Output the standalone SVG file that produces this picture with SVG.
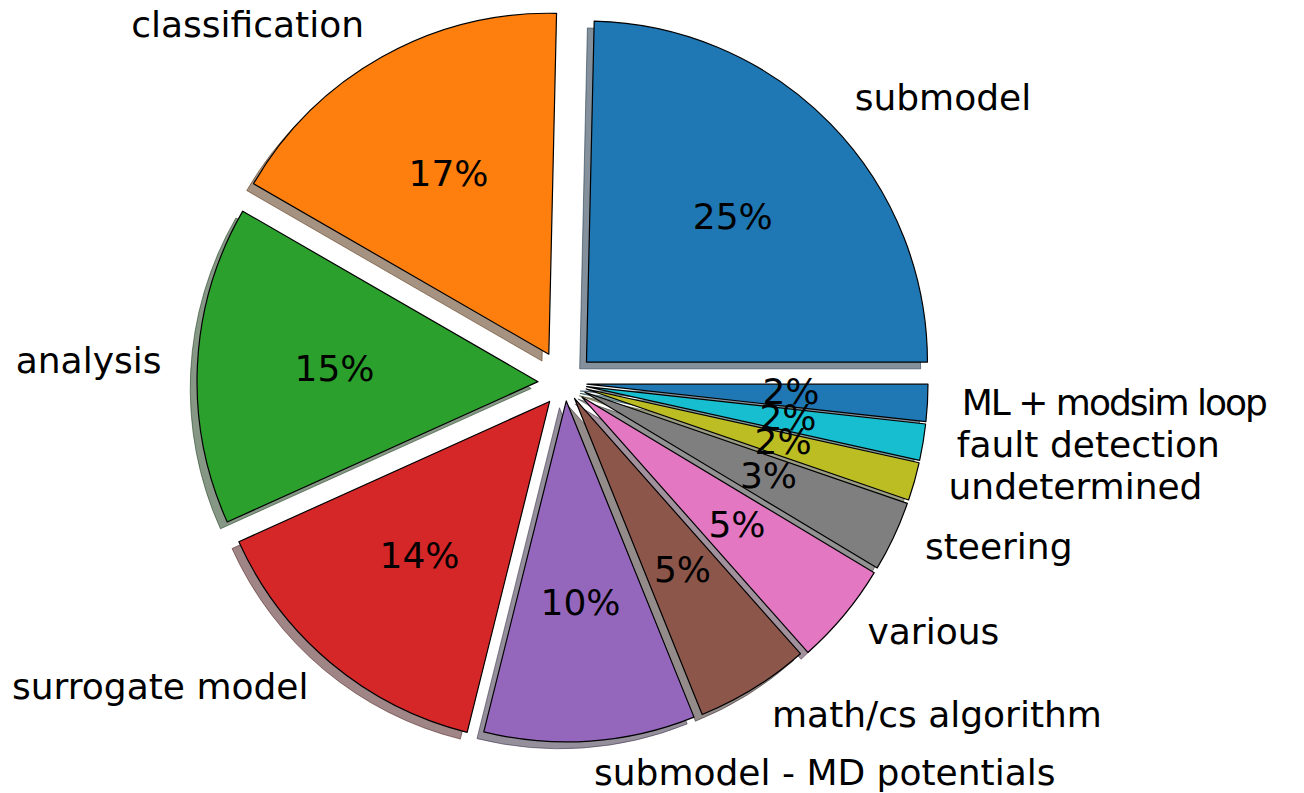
<svg xmlns="http://www.w3.org/2000/svg" width="1304" height="793" viewBox="0 0 1304 793">
<style>
.w{stroke:#000;stroke-width:1.2;stroke-linejoin:round}
.s{fill-opacity:0.5;stroke-width:1;stroke-opacity:0.5}
.t{font-family:"DejaVu Sans","Liberation Sans",sans-serif;font-size:36px;fill:#000}
.m{text-anchor:middle}
.e{text-anchor:end}
</style>
<rect width="1304" height="793" fill="#fff"/>
<g id="shadows" transform="translate(-6.8,6.8)">
<path class="s" fill="#09243a" stroke="#09243a" d="M586.46,362.03 L927.46,362.03 A341,341 0 0,0 594.20,21.12 Z"/>
<path class="s" fill="#4d2604" stroke="#4d2604" d="M548.82,354.24 L556.56,13.33 A341,341 0 0,0 253.51,183.74 Z"/>
<path class="s" fill="#0d300d" stroke="#0d300d" d="M538.03,381.66 L242.72,211.16 A341,341 0 0,0 227.24,521.99 Z"/>
<path class="s" fill="#400c0c" stroke="#400c0c" d="M549.63,401.43 L238.84,541.76 A341,341 0 0,0 467.14,732.30 Z"/>
<path class="s" fill="#2c1f39" stroke="#2c1f39" d="M566.26,400.96 L483.77,731.83 A341,341 0 0,0 694.00,717.13 Z"/>
<path class="s" fill="#2a1a17" stroke="#2a1a17" d="M574.47,398.31 L702.21,714.48 A341,341 0 0,0 800.42,653.71 Z"/>
<path class="s" fill="#44243a" stroke="#44243a" d="M581.93,397.05 L807.88,652.45 A341,341 0 0,0 874.23,572.68 Z"/>
<path class="s" fill="#262626" stroke="#262626" d="M584.94,392.30 L877.24,567.93 A341,341 0 0,0 907.36,503.32 Z"/>
<path class="s" fill="#38390a" stroke="#38390a" d="M586.17,388.97 L908.59,499.99 A341,341 0 0,0 919.09,462.78 Z"/>
<path class="s" fill="#07393e" stroke="#07393e" d="M586.70,386.59 L919.62,460.40 A341,341 0 0,0 925.64,424.01 Z"/>
<path class="s" fill="#09243a" stroke="#09243a" d="M586.97,384.21 L925.91,421.63 A341,341 0 0,0 927.97,384.21 Z"/>
</g>
<g id="submodel"><path class="w" fill="#1f77b4" d="M586.46,362.03 L927.46,362.03 A341,341 0 0,0 594.20,21.12 Z"/></g>
<g id="classification"><path class="w" fill="#ff7f0e" d="M548.82,354.24 L556.56,13.33 A341,341 0 0,0 253.51,183.74 Z"/></g>
<g id="analysis"><path class="w" fill="#2ca02c" d="M538.03,381.66 L242.72,211.16 A341,341 0 0,0 227.24,521.99 Z"/></g>
<g id="surrogate-model"><path class="w" fill="#d62728" d="M549.63,401.43 L238.84,541.76 A341,341 0 0,0 467.14,732.30 Z"/></g>
<g id="submodel-md-potentials"><path class="w" fill="#9467bd" d="M566.26,400.96 L483.77,731.83 A341,341 0 0,0 694.00,717.13 Z"/></g>
<g id="math-cs-algorithm"><path class="w" fill="#8c564b" d="M574.47,398.31 L702.21,714.48 A341,341 0 0,0 800.42,653.71 Z"/></g>
<g id="various"><path class="w" fill="#e377c2" d="M581.93,397.05 L807.88,652.45 A341,341 0 0,0 874.23,572.68 Z"/></g>
<g id="steering"><path class="w" fill="#7f7f7f" d="M584.94,392.30 L877.24,567.93 A341,341 0 0,0 907.36,503.32 Z"/></g>
<g id="undetermined"><path class="w" fill="#bcbd22" d="M586.17,388.97 L908.59,499.99 A341,341 0 0,0 919.09,462.78 Z"/></g>
<g id="fault-detection"><path class="w" fill="#17becf" d="M586.70,386.59 L919.62,460.40 A341,341 0 0,0 925.64,424.01 Z"/></g>
<g id="ml-modsim-loop"><path class="w" fill="#1f77b4" d="M586.97,384.21 L925.91,421.63 A341,341 0 0,0 927.97,384.21 Z"/></g>
<g id="labels" class="t">
<text x="854.7" y="109.5">submodel</text>
<text class="e" x="364" y="37">classification</text>
<text class="e" x="161.5" y="372.5">analysis</text>
<text class="e" x="308.5" y="699">surrogate model</text>
<text x="594" y="784.5">submodel - MD potentials</text>
<text x="772" y="726.8">math/cs algorithm</text>
<text x="867.5" y="644">various</text>
<text x="924.9" y="559">steering</text>
<text x="948.5" y="499">undetermined</text>
<text x="956.8" y="457.2">fault detection</text>
<text x="961.8" y="414.6" textLength="306" lengthAdjust="spacing">ML + modsim loop</text>
</g>
<g id="percentages" class="t m">
<text x="732.8" y="228.5">25%</text>
<text x="448.5" y="185.5">17%</text>
<text x="334.5" y="381">15%</text>
<text x="419.5" y="568">14%</text>
<text x="580.5" y="614.6">10%</text>
<text x="682.5" y="581.8">5%</text>
<text x="737" y="536.5">5%</text>
<text x="768.5" y="488.3">3%</text>
<text x="783.1" y="454">2%</text>
<text x="788" y="429.5">2%</text>
<text x="791" y="404">2%</text>
</g>
</svg>
